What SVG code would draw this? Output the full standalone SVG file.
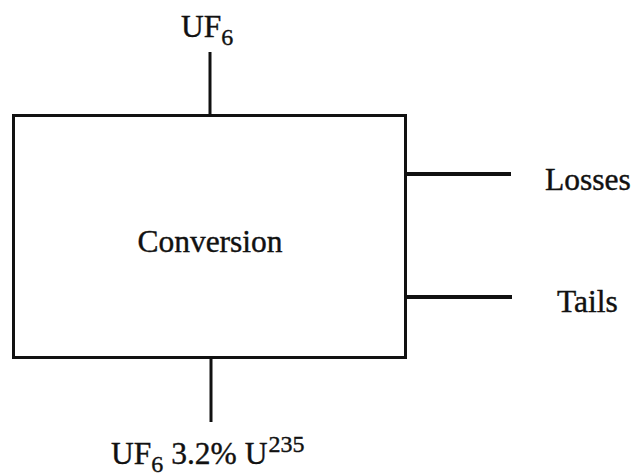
<svg xmlns="http://www.w3.org/2000/svg" width="633" height="476" viewBox="0 0 633 476">
<style>
.t{font-family:"Liberation Serif","Times New Roman",serif;font-size:31.5px;fill:#111;stroke:#111;stroke-width:0.4}
.s{font-size:24px}
.ln{stroke:#111;fill:none}
</style>
<rect width="633" height="476" fill="#fff"/>
<g id="conversion">
<rect x="13.5" y="115.5" width="392" height="242" class="ln" stroke-width="3"/>
<text x="210" y="252" class="t" text-anchor="middle">Conversion</text>
</g>
<g id="connectors">
<line x1="210" y1="52" x2="210" y2="115" class="ln" stroke-width="3"/>
<line x1="211" y1="358" x2="211" y2="422" class="ln" stroke-width="3"/>
<line x1="405" y1="174" x2="511" y2="174" class="ln" stroke-width="4"/>
<line x1="405" y1="297" x2="512" y2="297" class="ln" stroke-width="4"/>
</g>
<g id="uf6-in">
<text x="181" y="37" class="t">UF<tspan class="s" dy="8">6</tspan></text>
</g>
<g id="losses">
<text x="545" y="190" class="t">Losses</text>
</g>
<g id="tails">
<text x="557" y="312" class="t">Tails</text>
</g>
<g id="uf6-out">
<text x="111" y="464" class="t">UF<tspan class="s" dy="8">6</tspan><tspan dy="-8"> 3.2% U</tspan><tspan class="s" dy="-12" dx="1">235</tspan></text>
</g>
</svg>
